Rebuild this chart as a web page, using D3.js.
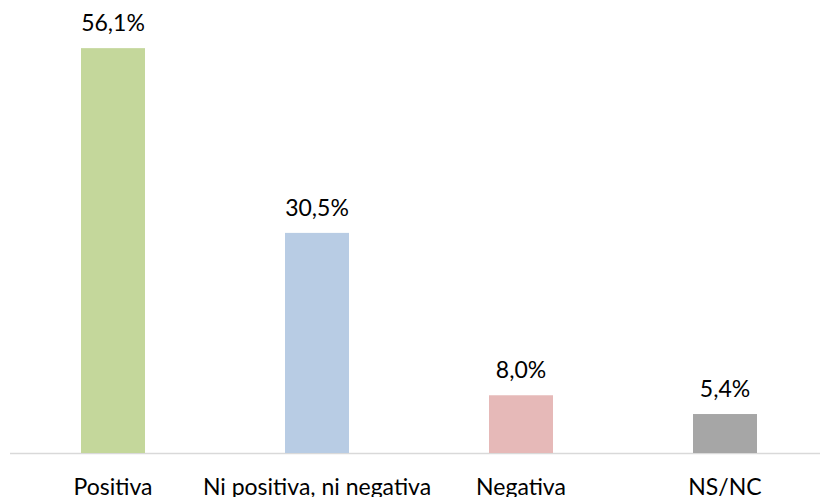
<!DOCTYPE html>
<html><head><meta charset="utf-8">
<script src="https://cdn.jsdelivr.net/npm/d3@7"></script>
<style>body{margin:0;background:#fff}svg{display:block}</style>
</head><body>
<svg id="c" width="820" height="497"></svg>
<script>
const categories = ["Positiva", "Ni positiva, ni negativa", "Negativa", "NS/NC"];
const values = [56.1, 30.5, 8.0, 5.4];
const valueLabels = ["56,1%", "30,5%", "8,0%", "5,4%"];
const colors = ["#c4d79b", "#b8cce4", "#e6b9b8", "#a6a6a6"];

const svg = d3.select("#c");
const font = "Lato, 'Open Sans', sans-serif";
const x = d3.scaleBand().domain(categories).range([11, 827]).paddingInner(1 - 64/204).paddingOuter((1 - 64/204)/2);
const y = d3.scaleLinear().domain([0, 60]).range([453, 20]);

svg.append("line").attr("x1", 10).attr("x2", 820).attr("y1", 453.5).attr("y2", 453.5)
  .attr("stroke", "#d9d9d9").attr("stroke-width", 1.5);

svg.selectAll("rect.bar").data(values).join("rect").attr("class", "bar")
  .attr("x", (d, i) => x(categories[i]))
  .attr("width", x.bandwidth())
  .attr("y", d => y(d))
  .attr("height", d => y(0) - y(d))
  .attr("fill", (d, i) => colors[i]);

svg.selectAll("text.val").data(values).join("text").attr("class", "val")
  .attr("x", (d, i) => x(categories[i]) + x.bandwidth()/2)
  .attr("y", d => y(d) - 17)
  .attr("text-anchor", "middle")
  .style("font-family", font).style("font-size", "23px").attr("fill", "#000")
  .text((d, i) => valueLabels[i]);

svg.selectAll("text.cat").data(categories).join("text").attr("class", "cat")
  .attr("x", d => x(d) + x.bandwidth()/2)
  .attr("y", 495)
  .attr("text-anchor", "middle")
  .style("font-family", font).style("font-size", "23px").attr("fill", "#000")
  .text(d => d);
</script>
</body></html>
